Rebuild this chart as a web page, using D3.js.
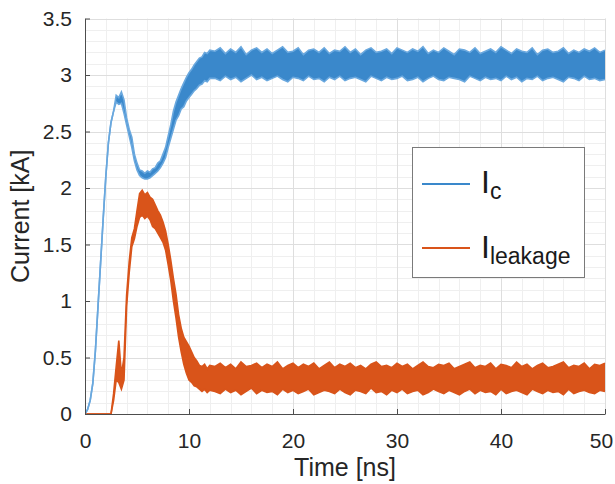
<!DOCTYPE html>
<html><head><meta charset="utf-8">
<script src="https://cdn.jsdelivr.net/npm/d3@7"></script>
<style>
html,body{margin:0;padding:0;background:#fff;}
svg{display:block;font-family:"Liberation Sans",Arial,Helvetica,sans-serif;}
</style></head>
<body>
<svg id="chart" width="615" height="484"></svg>
<script>
// ---- data ----
const xTicks = [0, 10, 20, 30, 40, 50];
const yTicks = [0, 0.5, 1, 1.5, 2, 2.5, 3, 3.5];
const xTickLabels = ["0", "10", "20", "30", "40", "50"];
const yTickLabels = ["0", "0.5", "1", "1.5", "2", "2.5", "3", "3.5"];
const seriesNames = ["c", "leakage"];
const seriesColors = ["#3a88cb", "#d9541a"];

// sample times [ns]: 0..12 every 0.25, then 12.5..50 every 0.5
const times = d3.range(0, 12.001, 0.25).concat(d3.range(12.5, 50.001, 0.5));

// I_c envelope (upper / lower), kA
const icUpper = [
  0, 0.04, 0.12, 0.27, 0.56, 0.95, 1.34, 1.73, 2.1, 2.4,
  2.58, 2.68, 2.82, 2.8, 2.85, 2.78, 2.62, 2.52, 2.45, 2.3,
  2.22, 2.16, 2.15, 2.13, 2.15, 2.14, 2.17, 2.18, 2.22, 2.24,
  2.3, 2.36, 2.46, 2.56, 2.68, 2.76, 2.82, 2.88, 2.93, 2.98,
  3.02, 3.05, 3.09, 3.12, 3.15, 3.16, 3.2, 3.19, 3.22,
  3.21, 3.24, 3.19, 3.23, 3.2, 3.25, 3.18, 3.22, 3.24, 3.2,
  3.23, 3.19, 3.22, 3.25, 3.2, 3.21, 3.24, 3.18, 3.22, 3.23,
  3.2, 3.24, 3.19, 3.22, 3.21, 3.25, 3.2, 3.23, 3.18, 3.22,
  3.24, 3.2, 3.21, 3.23, 3.19, 3.24, 3.22, 3.2, 3.23, 3.21,
  3.25, 3.19, 3.22, 3.2, 3.24, 3.21, 3.18, 3.23, 3.22, 3.2,
  3.24, 3.19, 3.21, 3.23, 3.2, 3.25, 3.22, 3.19, 3.23, 3.21,
  3.2, 3.24, 3.18, 3.22, 3.23, 3.2, 3.21, 3.24, 3.19, 3.22,
  3.2, 3.23, 3.21, 3.24, 3.2, 3.22
];
const icLower = [
  0, 0.04, 0.12, 0.27, 0.56, 0.95, 1.34, 1.73, 2.1, 2.4,
  2.58, 2.68, 2.76, 2.74, 2.75, 2.66, 2.56, 2.46, 2.36, 2.24,
  2.16, 2.11, 2.09, 2.08, 2.08, 2.09, 2.11, 2.13, 2.15, 2.18,
  2.22, 2.27, 2.36, 2.44, 2.52, 2.6, 2.64, 2.7, 2.72, 2.77,
  2.8, 2.83, 2.86, 2.88, 2.91, 2.92, 2.95, 2.94, 2.97,
  2.97, 2.95, 2.99, 2.96, 2.98, 2.94, 2.97, 3.0, 2.96, 2.98,
  2.95, 2.97, 2.99, 2.96, 2.94, 2.98, 2.97, 2.95, 2.99, 2.96,
  2.97, 2.94, 2.98, 2.96, 2.99, 2.95, 2.97, 2.98, 2.96, 2.94,
  2.99, 2.97, 2.95, 2.98, 2.96, 2.97, 2.99, 2.95, 2.96, 2.98,
  2.94, 2.97, 2.99, 2.96, 2.95, 2.98, 2.97, 2.96, 2.94, 2.99,
  2.97, 2.95, 2.98, 2.96, 2.97, 2.95, 2.99, 2.96, 2.98, 2.94,
  2.97, 2.96, 2.99, 2.95, 2.97, 2.98, 2.96, 2.94, 2.98, 2.97,
  2.95, 2.99, 2.96, 2.97, 2.95, 2.96
];
// I_leakage envelope (upper / lower), kA
const ilUpper = [
  0, 0, 0, 0, 0, 0, 0, 0, 0, 0,
  0, 0.18, 0.42, 0.65, 0.35, 0.5, 1.05, 1.35, 1.56, 1.64,
  1.8, 1.95, 1.98, 1.94, 1.96, 1.92, 1.9, 1.85, 1.8, 1.76,
  1.7, 1.62, 1.5, 1.36, 1.2, 1.06, 0.88, 0.76, 0.68, 0.64,
  0.6, 0.55, 0.5, 0.47, 0.43, 0.42, 0.44, 0.4, 0.43,
  0.42, 0.45, 0.41, 0.44, 0.4, 0.46, 0.42, 0.43, 0.45, 0.41,
  0.44, 0.42, 0.46, 0.4, 0.43, 0.45, 0.41, 0.44, 0.42, 0.45,
  0.4, 0.43, 0.46, 0.41, 0.44, 0.42, 0.45, 0.41, 0.43, 0.4,
  0.44, 0.46, 0.42, 0.43, 0.41, 0.45, 0.42, 0.44, 0.4, 0.43,
  0.46, 0.42, 0.41, 0.44, 0.43, 0.45, 0.4, 0.42, 0.44, 0.46,
  0.41, 0.43, 0.42, 0.45, 0.4, 0.44, 0.43, 0.41, 0.46, 0.42,
  0.44, 0.4, 0.43, 0.45, 0.41, 0.42, 0.44, 0.46, 0.41, 0.43,
  0.42, 0.45, 0.4, 0.44, 0.43, 0.45
];
const ilLower = [
  0, 0, 0, 0, 0, 0, 0, 0, 0, 0,
  0, 0.12, 0.3, 0.28, 0.22, 0.3, 0.95, 1.25, 1.48, 1.55,
  1.66, 1.74, 1.76, 1.73, 1.75, 1.72, 1.66, 1.64, 1.6, 1.56,
  1.52, 1.45, 1.32, 1.18, 1.0, 0.85, 0.68, 0.55, 0.44, 0.36,
  0.3, 0.28, 0.25, 0.24, 0.22, 0.2, 0.22, 0.19, 0.21,
  0.2, 0.18, 0.22, 0.19, 0.21, 0.17, 0.2, 0.23, 0.18, 0.21,
  0.19, 0.2, 0.17, 0.22, 0.19, 0.21, 0.18, 0.2, 0.22, 0.17,
  0.19, 0.21, 0.2, 0.18, 0.22, 0.19, 0.17, 0.21, 0.2, 0.18,
  0.23, 0.19, 0.2, 0.17, 0.21, 0.19, 0.22, 0.18, 0.2, 0.21,
  0.17, 0.19, 0.22, 0.2, 0.18, 0.21, 0.19, 0.17, 0.2, 0.22,
  0.18, 0.21, 0.19, 0.2, 0.17, 0.22, 0.18, 0.2, 0.21, 0.19,
  0.17, 0.22, 0.2, 0.18, 0.21, 0.19, 0.2, 0.17, 0.22, 0.18,
  0.2, 0.21, 0.19, 0.18, 0.21, 0.2
];

// ---- drawing ----
const svg = d3.select("#chart");
const L = 85, R = 605, T = 18.5, B = 414;
const x = d3.scaleLinear().domain([0, 50]).range([L, R]);
const y = d3.scaleLinear().domain([0, 3.5]).range([B, T]);

// minor grid
const gMinor = svg.append("g").attr("stroke", "#efefef").attr("stroke-width", 1);
d3.range(0, 50.001, 2).forEach(v => {
  gMinor.append("line").attr("x1", Math.round(x(v)) + 0.5).attr("x2", Math.round(x(v)) + 0.5)
    .attr("y1", T).attr("y2", B);
});
d3.range(0, 3.5001, 0.1).forEach(v => {
  gMinor.append("line").attr("y1", Math.round(y(v)) + 0.5).attr("y2", Math.round(y(v)) + 0.5)
    .attr("x1", L).attr("x2", R);
});
// major grid
const gMajor = svg.append("g").attr("stroke", "#dedede").attr("stroke-width", 1);
xTicks.forEach(v => {
  gMajor.append("line").attr("x1", Math.round(x(v)) + 0.5).attr("x2", Math.round(x(v)) + 0.5)
    .attr("y1", T).attr("y2", B);
});
yTicks.forEach(v => {
  gMajor.append("line").attr("y1", Math.round(y(v)) + 0.5).attr("y2", Math.round(y(v)) + 0.5)
    .attr("x1", L).attr("x2", R);
});

// clip
svg.append("clipPath").attr("id", "clip").append("rect")
  .attr("x", L).attr("y", T - 2).attr("width", R - L + 1).attr("height", B - T + 2);

function band(upper, lower) {
  return times.map((t, i) => ({ t: t, hi: upper[i], lo: lower[i] }));
}
const bands = [band(icUpper, icLower), band(ilUpper, ilLower)];
const area = d3.area().x(d => x(d.t)).y0(d => y(d.lo)).y1(d => y(d.hi));
const lineHi = d3.line().x(d => x(d.t)).y(d => y(d.hi));
const lineLo = d3.line().x(d => x(d.t)).y(d => y(d.lo));

const gData = svg.append("g").attr("clip-path", "url(#clip)");
const drawOrder = [1, 0];
drawOrder.forEach(k => {
  const g = gData.append("g");
  g.append("path").datum(bands[k]).attr("d", area).attr("fill", seriesColors[k]);
  g.append("path").datum(bands[k]).attr("d", lineHi).attr("fill", "none")
    .attr("stroke", k === 0 ? "#6aa8de" : seriesColors[k]).attr("stroke-width", 1.6);
  g.append("path").datum(bands[k]).attr("d", lineLo).attr("fill", "none")
    .attr("stroke", k === 0 ? "#6aa8de" : seriesColors[k]).attr("stroke-width", 1.6);
});

// axes (left and bottom only, ticks inward)
const axisColor = "#4d4d4d";
const xAxis = d3.axisBottom(x).tickValues(xTicks).tickFormat((d, i) => xTickLabels[i])
  .tickSizeInner(-5).tickSizeOuter(0).tickPadding(19);
const gx = svg.append("g").attr("transform", `translate(0,${B})`).call(xAxis);
const yAxis = d3.axisLeft(y).tickValues(yTicks).tickFormat((d, i) => yTickLabels[i])
  .tickSizeInner(-5).tickSizeOuter(0).tickPadding(13);
const gy = svg.append("g").attr("transform", `translate(${L},0)`).call(yAxis);
[gx, gy].forEach(g => {
  g.select(".domain").attr("stroke", axisColor).attr("stroke-width", 1);
  g.selectAll(".tick line").attr("stroke", axisColor);
  g.selectAll(".tick text").attr("fill", "#262626")
    .style("font-size", "21px").style("font-family", '"Liberation Sans",Arial,sans-serif');
});
// keep the last x label inside the window
gx.selectAll(".tick text").filter((d, i) => i === xTicks.length - 1).attr("dx", -4);

// axis titles
svg.append("text").attr("x", (L + R) / 2).attr("y", 476).attr("text-anchor", "middle")
  .attr("fill", "#262626").style("font-size", "25px").text("Time [ns]");
svg.append("text").attr("transform", `translate(29,${(T + B) / 2}) rotate(-90)`)
  .attr("text-anchor", "middle").attr("fill", "#262626").style("font-size", "25px")
  .text("Current [kA]");

// legend
const leg = svg.append("g");
leg.append("rect").attr("x", 412.5).attr("y", 147.5).attr("width", 172).attr("height", 130)
  .attr("fill", "#fff").attr("stroke", "#7a7a7a").attr("stroke-width", 1);
const legY = [184, 248];
const legBase = [193, 258];
seriesNames.forEach((name, k) => {
  leg.append("line").attr("x1", 422).attr("x2", 470).attr("y1", legY[k]).attr("y2", legY[k])
    .attr("stroke", seriesColors[k]).attr("stroke-width", 2);
  const t = leg.append("text").attr("x", 481).attr("y", legBase[k]).attr("fill", "#1a1a1a")
    .style("font-size", "32px");
  t.append("tspan").text("I");
  t.append("tspan").attr("dy", 6).style("font-size", "23px").text(name);
});
</script>
</body></html>
